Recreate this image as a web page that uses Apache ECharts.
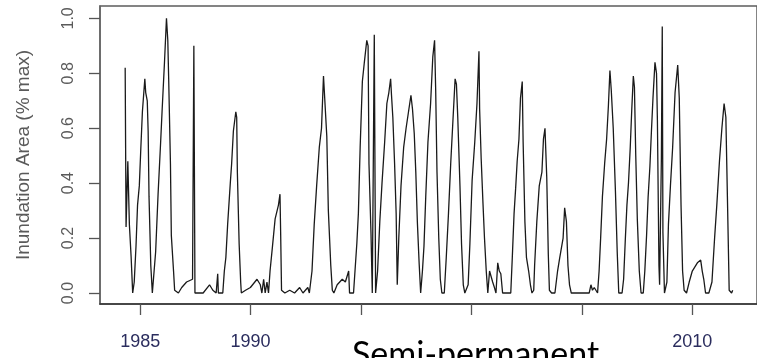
<!DOCTYPE html>
<html>
<head>
<meta charset="utf-8">
<script src="https://cdn.jsdelivr.net/npm/echarts@6/dist/echarts.min.js"></script>
<style>
  html, body { margin: 0; padding: 0; background: #fff; }
  #chart { width: 757px; height: 358px; }
</style>
</head>
<body>
<div id="chart"></div>
<script>
// Inundation area as a fraction of the maximum, [decimal year, value]
const inundation = [
  [1984.32,0.82],[1984.36,0.24],[1984.44,0.48],[1984.51,0.25],[1984.59,0.13],[1984.66,0.00],[1984.73,0.04],[1984.81,0.17],[1984.88,0.32],[1984.96,0.39],
  [1985.03,0.53],[1985.10,0.66],[1985.21,0.78],[1985.25,0.73],[1985.32,0.70],[1985.36,0.59],[1985.40,0.35],[1985.48,0.10],[1985.55,0.00],[1985.62,0.00],
  [1985.70,0.15],[1985.81,0.36],[1985.92,0.54],[1985.99,0.66],[1986.10,0.84],[1986.19,1.00],[1986.25,0.92],[1986.29,0.78],[1986.37,0.47],[1986.41,0.21],
  [1986.51,0.08],[1986.56,0.01],[1986.73,0.00],[1986.88,0.02],[1987.10,0.04],[1987.37,0.05],[1987.43,0.90],[1987.48,0.00],[1987.62,0.00],[1987.85,0.00],
  [1988.14,0.03],[1988.29,0.01],[1988.44,0.00],[1988.51,0.07],[1988.54,0.00],[1988.74,0.00],[1988.81,0.08],[1988.88,0.13],[1988.96,0.25],[1989.08,0.40],
  [1989.14,0.47],[1989.22,0.59],[1989.33,0.66],[1989.37,0.64],[1989.40,0.44],[1989.48,0.18],[1989.55,0.04],[1989.58,0.00],[1989.77,0.01],[1989.99,0.02],
  [1990.29,0.05],[1990.44,0.03],[1990.51,0.00],[1990.59,0.05],[1990.66,0.00],[1990.74,0.04],[1990.81,0.00],[1990.88,0.08],[1990.99,0.17],[1991.11,0.27],
  [1991.26,0.32],[1991.33,0.36],[1991.36,0.22],[1991.40,0.01],[1991.55,0.00],[1991.77,0.01],[1991.99,0.00],[1992.22,0.02],[1992.37,0.00],[1992.59,0.02],
  [1992.66,0.00],[1992.78,0.08],[1992.88,0.25],[1992.99,0.39],[1993.11,0.53],[1993.21,0.60],[1993.30,0.79],[1993.37,0.79],[1993.45,0.57],[1993.52,0.30],
  [1993.63,0.10],[1993.70,0.01],[1993.77,0.00],[1993.92,0.03],[1994.15,0.05],[1994.29,0.04],[1994.44,0.08],[1994.48,0.00],[1994.66,0.00],[1994.81,0.18],
  [1994.88,0.29],[1994.96,0.53],[1995.06,0.77],[1995.15,0.84],[1995.26,0.92],[1995.32,0.90],[1995.36,0.47],[1995.45,0.22],[1995.51,0.00],[1995.60,0.94],
  [1995.66,0.00],[1995.75,0.08],[1995.85,0.26],[1995.95,0.40],[1996.07,0.55],[1996.17,0.69],[1996.26,0.73],[1996.34,0.78],[1996.38,0.72],[1996.44,0.64],
  [1996.52,0.47],[1996.59,0.29],[1996.64,0.03],[1996.71,0.20],[1996.81,0.39],[1996.93,0.53],[1997.04,0.60],[1997.15,0.66],[1997.26,0.72],[1997.33,0.67],
  [1997.41,0.58],[1997.48,0.44],[1997.55,0.26],[1997.63,0.11],[1997.70,0.00],[1997.78,0.08],[1997.85,0.17],[1997.93,0.35],[1998.03,0.55],[1998.15,0.69],
  [1998.25,0.86],[1998.33,0.92],[1998.38,0.74],[1998.44,0.44],[1998.52,0.20],[1998.59,0.05],[1998.66,0.00],[1998.77,0.00],[1998.86,0.13],[1998.96,0.29],
  [1999.06,0.47],[1999.15,0.61],[1999.26,0.78],[1999.32,0.76],[1999.38,0.64],[1999.48,0.39],[1999.55,0.18],[1999.63,0.03],[1999.70,0.00],[1999.85,0.03],
  [1999.93,0.18],[2000.03,0.41],[2000.15,0.55],[2000.25,0.69],[2000.34,0.88],[2000.37,0.67],[2000.44,0.49],[2000.52,0.33],[2000.59,0.20],[2000.67,0.08],
  [2000.74,0.00],[2000.82,0.08],[2000.89,0.06],[2000.96,0.04],[2001.04,0.02],[2001.11,0.00],[2001.19,0.11],[2001.26,0.08],[2001.33,0.07],[2001.41,0.00],
  [2001.78,0.00],[2001.85,0.13],[2001.93,0.29],[2002.00,0.38],[2002.07,0.48],[2002.15,0.56],[2002.22,0.71],[2002.30,0.77],[2002.34,0.55],[2002.42,0.26],
  [2002.49,0.13],[2002.59,0.08],[2002.67,0.03],[2002.74,0.00],[2002.82,0.01],[2002.86,0.10],[2002.96,0.26],[2003.07,0.39],[2003.19,0.44],[2003.26,0.56],
  [2003.33,0.60],[2003.41,0.42],[2003.48,0.14],[2003.53,0.01],[2003.63,0.00],[2003.78,0.00],[2003.90,0.08],[2004.00,0.13],[2004.15,0.20],[2004.22,0.31],
  [2004.30,0.26],[2004.37,0.10],[2004.44,0.03],[2004.52,0.00],[2004.96,0.00],[2005.33,0.00],[2005.41,0.03],[2005.48,0.01],[2005.56,0.02],[2005.71,0.00],
  [2005.78,0.08],[2005.85,0.20],[2005.93,0.35],[2006.03,0.47],[2006.12,0.56],[2006.20,0.68],[2006.27,0.81],[2006.33,0.74],[2006.42,0.60],[2006.52,0.37],
  [2006.60,0.15],[2006.67,0.00],[2006.82,0.00],[2006.89,0.05],[2006.97,0.20],[2007.04,0.32],[2007.11,0.40],[2007.19,0.53],[2007.26,0.67],[2007.33,0.79],
  [2007.38,0.75],[2007.44,0.50],[2007.51,0.27],[2007.60,0.08],[2007.68,0.00],[2007.78,0.00],[2007.85,0.08],[2007.93,0.21],[2008.00,0.35],[2008.08,0.46],
  [2008.15,0.59],[2008.22,0.71],[2008.31,0.84],[2008.38,0.80],[2008.42,0.63],[2008.49,0.10],[2008.52,0.03],[2008.60,0.49],[2008.64,0.97],[2008.67,0.22],
  [2008.74,0.00],[2008.85,0.04],[2008.92,0.25],[2009.01,0.39],[2009.11,0.53],[2009.22,0.73],[2009.34,0.83],[2009.41,0.71],[2009.49,0.32],[2009.56,0.08],
  [2009.63,0.01],[2009.74,0.00],[2009.86,0.04],[2010.00,0.08],[2010.23,0.11],[2010.38,0.12],[2010.45,0.08],[2010.52,0.05],[2010.60,0.00],[2010.75,0.00],
  [2010.89,0.04],[2011.01,0.20],[2011.11,0.32],[2011.23,0.48],[2011.34,0.60],[2011.44,0.69],[2011.52,0.64],[2011.59,0.35],[2011.67,0.01],[2011.78,0.00],
  [2011.83,0.01]
];

// Axis ticks and the labels printed under / beside them
const yearTicks = [1985, 1990, 1995, 2000, 2005, 2010];
const yearLabels = [1985, 1990, 2010];
const areaTicks = [0, 0.2, 0.4, 0.6, 0.8, 1.0];
const yAxisTitle = 'Inundation Area (% max)';
const panelLabel = 'Semi-permanent';

const sansFamily = '"Liberation Sans", Arial, Helvetica, sans-serif';

const chart = echarts.init(document.getElementById('chart'), null, { renderer: 'canvas' });
chart.setOption({
  animation: false,
  backgroundColor: '#fff',
  grid: {
    left: 100, right: -12, top: 6, bottom: 54,
    show: true, borderColor: '#5c5c5c', borderWidth: 1.5, backgroundColor: 'transparent'
  },
  xAxis: {
    type: 'value',
    min: 1983.18,
    max: 2012.93,
    splitLine: { show: false },
    axisLine: { show: true, onZero: false, lineStyle: { color: '#333', width: 1.6 } },
    axisTick: { show: true, length: 11, customValues: yearTicks, lineStyle: { color: '#555', width: 1.3 } },
    axisLabel: {
      customValues: yearLabels, margin: 29,
      formatter: v => String(Math.round(v)),
      fontSize: 18, fontFamily: sansFamily, color: '#2b2d5e'
    }
  },
  yAxis: {
    type: 'value',
    min: -0.04,
    max: 1.045,
    splitLine: { show: false },
    axisLine: { show: true, onZero: false, lineStyle: { color: '#666', width: 1.5 } },
    axisTick: { show: true, length: 11, customValues: areaTicks, lineStyle: { color: '#555', width: 1.3 } },
    axisLabel: {
      customValues: areaTicks, rotate: 90, margin: 23,
      formatter: v => v.toFixed(1),
      fontSize: 16, fontFamily: sansFamily, color: '#5a5a5a'
    },
    name: yAxisTitle,
    nameLocation: 'middle',
    nameRotate: 90,
    nameGap: 67,
    nameTextStyle: { fontSize: 19, fontFamily: sansFamily, color: '#5a5a5a' }
  },
  series: [{
    type: 'line',
    data: inundation,
    symbol: 'none',
    showSymbol: false,
    clip: true,
    lineStyle: { color: '#1a1a1a', width: 1.3 }
  }],
  graphic: [{
    type: 'text',
    left: 352,
    top: 338,
    z: 100,
    style: { text: panelLabel, font: '34px Lato, "Open Sans", sans-serif', fill: '#000' }
  }]
});
</script>
</body>
</html>
